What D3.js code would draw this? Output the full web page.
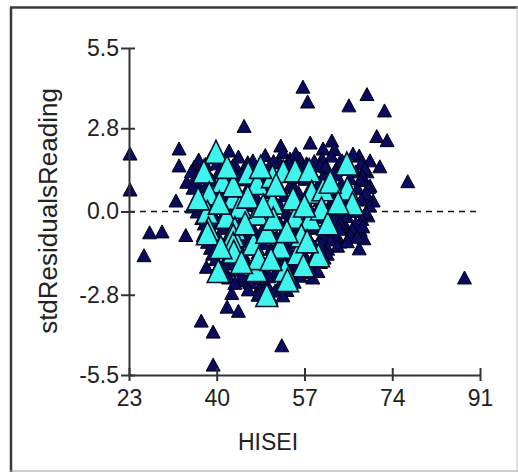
<!DOCTYPE html>
<html><head><meta charset="utf-8">
<script src="https://cdn.jsdelivr.net/npm/d3@7"></script>
<style>html,body{margin:0;padding:0;background:#fff;}svg{display:block;}</style>
</head><body>
<svg id="c" width="518" height="472"></svg>
<script>
const xTicks = [23, 40, 57, 74, 91];
const yTicks = [-5.5, -2.8, 0.0, 2.8, 5.5];
const xTitle = "HISEI";
const yTitle = "stdResidualsReading";

// small navy triangles [HISEI, stdResidualsReading]
const navyPoints = [
[23.2,1.95],[23.2,0.74],[25.9,-1.47],[27.0,-0.7],[29.4,-0.67],[32.1,0.37],[32.7,2.12],[32.7,1.55],[34.2,1.0],[34.0,-0.79],
[35.6,1.5],[35.2,0.17],[37.0,-3.67],[39.3,-4.04],[39.3,-5.15],[38.0,-1.86],[42.0,-3.2],[42.9,-2.74],[44.2,-3.34],[45.3,2.88],
[52.6,-4.5],[56.7,4.2],[57.6,3.7],[58.1,2.32],[65.6,3.57],[69.1,3.95],[72.5,3.4],[71.0,2.54],[73.0,2.4],[77.0,1.02],
[88.0,-2.22],[67.6,-1.24],[63.9,-1.01],[67.8,-0.62],[67.6,1.88],[71.6,1.52],[52.4,2.22],[42.4,2.05],[58.6,-2.22],[53.6,-2.64],
[62.3,2.39],[60.6,2.12],[62.8,2.1],[69.7,1.72],[69.1,1.35],[69.7,0.87],[70.3,0.37],[69.3,-0.13],[52.8,2.0],[54.2,1.78],
[56.1,1.78],[60.4,1.78],[61.4,1.45],[63.5,1.45],[43.1,1.55],[45.1,1.38],[35.8,1.51],[45.1,-2.32],[48.4,-2.52],[59.0,-1.9],
[68.5,-0.9],[68.8,0.5],[65.0,-0.5],
[36.5,1.75],[38.8,1.82],[41.3,1.7],[44.2,1.85],[47.0,1.72],[49.4,1.9],[52.1,1.65],[55.3,1.95],[58.9,1.7],[62.2,1.88],[64.3,1.72],[66.4,1.95],
[37.8,1.6],[40.0,1.62],[43.5,1.58],[46.0,1.66],[48.6,1.55],[51.0,1.7],[54.0,1.6],[57.4,1.62],[60.0,1.55],[63.8,1.65],[65.6,1.5],[68.0,1.62],
[35.1,1.36],[37.2,1.45],[40.4,1.32],[42.8,1.48],[46.3,1.42],[48.2,1.3],[50.1,1.5],[53.4,1.38],[56.2,1.44],[58.5,1.33],[61.1,1.52],[63.0,1.4],[66.9,1.35],[68.7,1.45],
[36.0,1.2],[38.5,1.22],[41.6,1.15],[44.7,1.25],[47.4,1.18],[49.8,1.12],[52.6,1.24],[55.5,1.16],[57.8,1.22],[60.6,1.18],[63.2,1.25],[65.8,1.12],[68.2,1.2],
[36.2,0.95],[39.1,1.05],[42.4,0.92],[45.3,1.08],[48.6,0.97],[51.2,1.04],[54.3,0.9],[57.1,1.1],[59.8,0.96],[62.4,1.02],[64.1,0.92],[67.9,1.06],
[35.4,0.8],[37.8,0.84],[40.1,0.76],[43.6,0.82],[46.0,0.78],[49.5,0.85],[52.4,0.75],[55.0,0.82],[58.1,0.8],[60.8,0.86],[62.9,0.76],[65.0,0.84],[67.3,0.78],[69.4,0.82],
[36.4,0.58],[38.3,0.65],[41.0,0.55],[44.3,0.62],[46.8,0.57],[50.2,0.66],[53.1,0.55],[55.9,0.63],[58.8,0.56],[61.3,0.64],[63.4,0.58],[66.1,0.52],[68.9,0.62],
[36.8,0.4],[39.3,0.42],[42.1,0.36],[45.4,0.44],[48.0,0.38],[51.0,0.45],[54.2,0.36],[57.0,0.42],[60.0,0.38],[62.7,0.44],[65.6,0.36],[68.0,0.4],
[37.3,0.18],[40.2,0.24],[43.1,0.15],[46.4,0.22],[49.2,0.14],[52.3,0.2],[55.1,0.26],[58.0,0.12],[61.8,0.2],[64.4,0.25],[67.2,0.1],[69.6,0.2],
[36.2,0.0],[38.9,0.04],[41.6,-0.02],[44.5,0.03],[47.5,-0.04],[50.4,0.02],[53.6,-0.03],[56.4,0.04],[59.3,-0.02],[61.9,0.03],[64.0,-0.05],[66.6,0.02],[68.9,-0.02],
[37.1,-0.22],[39.4,-0.15],[42.2,-0.26],[45.1,-0.18],[48.3,-0.24],[51.1,-0.14],[54.0,-0.22],[57.2,-0.28],[60.1,-0.18],[62.9,-0.23],[65.2,-0.15],[68.1,-0.25],
[37.6,-0.4],[40.3,-0.38],[43.1,-0.44],[46.0,-0.36],[49.4,-0.42],[52.2,-0.38],[55.3,-0.44],[58.3,-0.36],[61.0,-0.42],[63.9,-0.38],[66.9,-0.4],
[38.1,-0.62],[41.2,-0.55],[44.0,-0.66],[47.1,-0.58],[50.3,-0.64],[53.2,-0.56],[56.1,-0.62],[59.0,-0.55],[61.2,-0.65],[63.8,-0.58],[66.2,-0.6],[68.3,-0.5],
[37.4,-0.8],[39.6,-0.84],[42.4,-0.78],[45.6,-0.82],[48.4,-0.78],[51.6,-0.85],[54.7,-0.78],[57.6,-0.83],[60.4,-0.8],[63.0,-0.84],[65.8,-0.78],[67.2,-0.85],
[38.2,-1.02],[40.4,-0.95],[43.3,-1.05],[46.2,-0.98],[49.1,-1.06],[52.2,-0.96],[55.0,-1.04],[58.1,-0.97],[60.3,-1.08],[62.1,-0.94],[65.3,-1.0],
[38.8,-1.22],[41.4,-1.18],[44.5,-1.24],[47.6,-1.2],[50.5,-1.25],[53.5,-1.16],[56.2,-1.22],[59.0,-1.18],[61.5,-1.25],[63.4,-1.15],
[39.2,-1.42],[42.1,-1.36],[45.2,-1.45],[48.0,-1.38],[51.3,-1.44],[54.1,-1.35],[57.0,-1.46],[59.2,-1.38],[61.4,-1.42],
[39.8,-1.6],[41.8,-1.62],[44.4,-1.58],[47.5,-1.64],[50.4,-1.56],[53.2,-1.62],[56.3,-1.6],[58.5,-1.64],[60.8,-1.55],
[40.3,-1.82],[43.2,-1.75],[46.1,-1.85],[49.3,-1.78],[52.0,-1.84],[55.2,-1.76],[57.3,-1.86],[60.1,-1.7],
[41.6,-2.0],[44.0,-1.98],[46.8,-2.04],[48.8,-1.96],[51.5,-2.02],[54.3,-1.98],[57.0,-2.04],[59.6,-2.0],
[42.3,-2.22],[44.9,-2.15],[47.2,-2.25],[50.1,-2.18],[53.0,-2.24],[56.2,-2.16],
[43.5,-2.4],[46.4,-2.38],[49.7,-2.44],[52.4,-2.4],[55.0,-2.36],
[46.1,-2.62],[49.2,-2.58],[51.3,-2.66],
[48.0,-2.8],[50.5,-2.9],[52.8,-2.82]
];

// large cyan triangles [HISEI, stdResidualsReading]
const cyanPoints = [
[39.85,2.01],[37.5,1.34],[41.15,1.02],[38.56,0.61],[43.2,0.46],[46.1,1.31],[47.85,0.96],[50.8,1.19],[52.9,1.36],[55.2,1.39],
[57.9,1.39],[58.4,0.66],[60.6,0.75],[65.2,1.61],[65.3,0.77],[66.3,0.27],[50.8,0.30],[47.85,-0.07],[44.5,0.16],[41.9,-0.18],
[38.2,-0.01],[38.4,-0.57],[38.2,-0.73],[43.5,-0.57],[43.2,-0.8],[43.2,-1.08],[43.3,-1.35],[47.1,-1.08],[49.7,-0.68],[52.3,-1.19],
[55.2,-0.18],[58.1,-0.24],[60.3,0.10],[55.7,-1.41],[59.7,-1.47],[56.8,-1.81],[53.2,-1.97],[47.7,-1.97],[40.3,-2.0],[49.7,-2.81],
[53.7,-2.31],[50.95,-0.24],[43.2,0.88],[54.8,0.44],[56.4,-0.80],[53.6,-0.66],[48.1,-1.57],[36.4,0.44],
[45.5,-0.4],[46.0,0.5],[51.5,0.9],[57.0,0.2],[57.5,-1.0],[61.5,-0.4],[62.0,1.0],[49.0,0.2],[40.5,0.3],[40.8,-1.2],
[44.8,-1.7],[50.5,-1.6],[63.5,0.3],[48.5,1.5],[42.0,1.5]
];

const svg = d3.select("#c");
const font = "'Liberation Sans', Arial, sans-serif";
const fmtTick = d => d3.format(".1f")(d).replace("\u2212", "-");

// frame
svg.append("line").attr("x1",10).attr("x2",518).attr("y1",7.5).attr("y2",7.5).attr("stroke","#3a3a3a").attr("stroke-width",2.5);
svg.append("line").attr("x1",11).attr("x2",11).attr("y1",7).attr("y2",472).attr("stroke","#3a3a3a").attr("stroke-width",2.5);
svg.append("line").attr("x1",10).attr("x2",518).attr("y1",471).attr("y2",471).attr("stroke","#9a9a9a").attr("stroke-width",1);
svg.append("line").attr("x1",517).attr("x2",517).attr("y1",7).attr("y2",472).attr("stroke","#c8c8c8").attr("stroke-width",1);

const x = d3.scaleLinear().domain([23, 91]).range([129, 480]);
const y = d3.scaleLinear().domain([-5.5, 5.5]).range([375, 48]);

// zero dashed line
svg.append("line").attr("x1",x(23)).attr("x2",x(91)).attr("y1",y(0)).attr("y2",y(0))
  .attr("stroke","#111").attr("stroke-width",1.5).attr("stroke-dasharray","6,5");

function tri(w,h){
  return {draw(ctx){ ctx.moveTo(0,-h/2); ctx.lineTo(w/2,h/2); ctx.lineTo(-w/2,h/2); ctx.closePath(); }};
}
const navySym = d3.symbol().type(tri(14,13))();
const cyanSym = d3.symbol().type(tri(22,23))();

svg.append("g").selectAll("path").data(navyPoints).join("path")
  .attr("d", navySym)
  .attr("transform", d => `translate(${x(d[0])},${y(d[1])})`)
  .attr("fill","#0a0a5e").attr("stroke","#000014").attr("stroke-width",1);

svg.append("g").selectAll("path").data(cyanPoints).join("path")
  .attr("d", cyanSym)
  .attr("transform", d => `translate(${x(d[0])},${y(d[1])})`)
  .attr("fill","#3ff4ec").attr("stroke","#05102a").attr("stroke-width",1.6);

// axes
const yAxis = d3.axisLeft(y).tickValues(yTicks).tickFormat(fmtTick).tickSizeInner(8).tickSizeOuter(0).tickPadding(2);
const gy = svg.append("g").attr("transform","translate(129,0)").call(yAxis);
gy.select(".domain").attr("stroke","#333").attr("stroke-width",2);
gy.selectAll(".tick line").attr("stroke","#333").attr("stroke-width",2).attr("x2",-8).attr("x1",6);
gy.selectAll(".tick text").attr("font-family",font).attr("font-size",23).attr("fill","#222").attr("x",-10);

const xAxis = d3.axisBottom(x).tickValues(xTicks).tickFormat(d3.format("d")).tickSizeInner(7).tickSizeOuter(0).tickPadding(8);
const gx = svg.append("g").attr("transform","translate(0,375)").call(xAxis);
gx.select(".domain").attr("stroke","#333").attr("stroke-width",2);
gx.selectAll(".tick line").attr("stroke","#333").attr("stroke-width",2).attr("y1",-7).attr("y2",6);
gx.selectAll(".tick text").attr("font-family",font).attr("font-size",23).attr("fill","#222");

// titles
svg.append("text").attr("x",268).attr("y",450).attr("text-anchor","middle")
  .attr("font-family",font).attr("font-size",23).attr("fill","#222").text(xTitle);
svg.append("text").attr("transform","translate(57,211) rotate(-90)").attr("text-anchor","middle")
  .attr("font-family",font).attr("font-size",26).attr("fill","#222").text(yTitle);
</script>
</body></html>
